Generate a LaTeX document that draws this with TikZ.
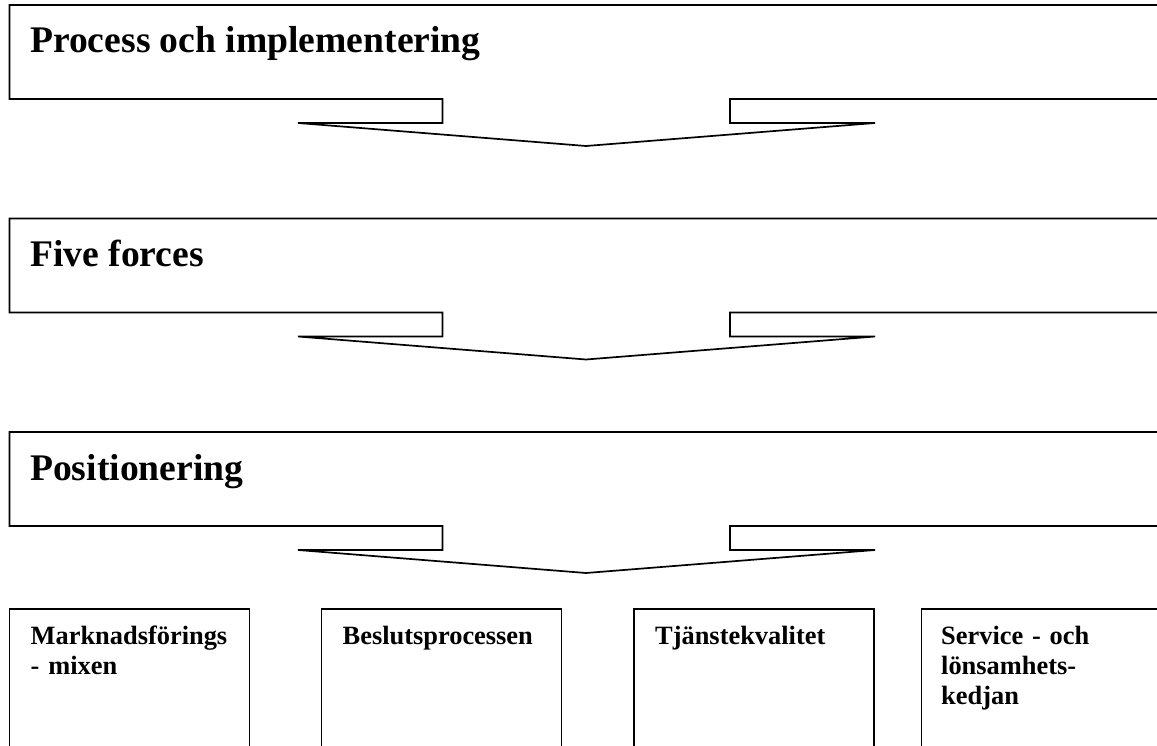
\documentclass[tikz,border=0pt]{standalone}
\usepackage{fontspec}
\setmainfont{Liberation Serif}
\begin{document}
\begin{tikzpicture}[x=1pt,y=-1pt,
  outline/.style={draw=black,line width=1.7pt,line join=miter},
  headtext/.style={anchor=base west,inner sep=0pt,font=\bfseries\fontsize{37.6}{42}\selectfont},
  boxtext/.style={anchor=base west,inner sep=0pt,text width=215pt,align=left,
    font=\bfseries\fontsize{26.4}{30}\selectfont}]
\useasboundingbox (0,0) rectangle (1157,746);
\clip (0,0) rectangle (1157,746);

% banner with a downward pointer underneath; #1 = top edge
\newcommand{\banner}[1]{%
  \draw[outline] (1180,#1) -- (9.5,#1) -- (9.5,#1+94) -- (442.5,#1+94)
    -- (442.5,#1+118) -- (298,#1+118) -- (586,#1+141) -- (875,#1+118)
    -- (730,#1+118) -- (730,#1+94) -- (1180,#1+94);}

\banner{5}
\banner{218.5}
\banner{432}

\node[headtext] (process) at (30,53) {Process och implementering};
\node[headtext] (forces) at (30,266.5) {Five forces};
\node[headtext] (position) at (30,480) {Positionering};

% four open-bottomed boxes along the lower edge
\draw[outline] (9.5,760) -- (9.5,609) -- (249.5,609) -- (249.5,760);
\draw[outline] (321.5,760) -- (321.5,609) -- (561.5,609) -- (561.5,760);
\draw[outline] (634,760) -- (634,609) -- (874,609) -- (874,760);
\draw[outline] (921.5,760) -- (921.5,609) -- (1180,609) -- (1180,760);

\node[boxtext] (mix) at (30.5,644) {Marknadsförings\\- mixen};
\node[boxtext] (beslut) at (342.5,644) {Beslutsprocessen};
\node[boxtext] (kvalitet) at (655,644) {Tjänstekvalitet};
\node[boxtext] (kedjan) at (941,644) {Service - och\\lönsamhets-\\kedjan};
\end{tikzpicture}
\end{document}
